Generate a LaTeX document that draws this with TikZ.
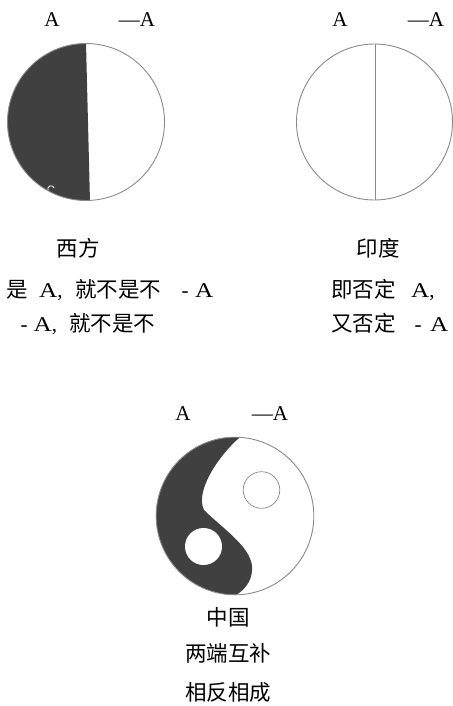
\documentclass[tikz,border=0pt]{standalone}
\usepackage{fontspec}
\setmainfont{Liberation Serif}
\newfontfamily\cjk{Noto Sans CJK SC}
\newcommand\wA{\scalebox{1.2}[1]{A}}
\definecolor{ink}{HTML}{404040}
\definecolor{rim}{HTML}{8A8A8A}
\begin{document}
\begin{tikzpicture}[x=1pt,y=-1pt,
  lbl/.style={font=\fontsize{21}{23}\selectfont, inner sep=0pt},
  lat/.style={font=\fontsize{21}{23}\selectfont, inner sep=0pt, anchor=base west},
  han/.style={font=\cjk\fontsize{21.5}{24}\selectfont, inner sep=0pt},
  hanw/.style={han, anchor=base west},
  rimline/.style={draw=rim, line width=0.9pt}]
\useasboundingbox (0,0) rectangle (452,706);
% ---- left: West ----
\begin{scope}
\clip (86,122) circle (78.5);
\fill[ink] (0,30) -- (86,43) -- (90,202) -- (0,210) -- cycle;
\end{scope}
\draw[rimline] (86,122) circle (78.5);
\draw[white, line width=0.8pt] (48,190) arc (-200:-20:3.2);
\node[lbl] (wa) at (52,20) {A};
\node[lbl] (wna) at (137,20) {—A};
\node[han] (w1) at (78,248) {西方};
\node[hanw] (w2a) at (6,297.5) {是};
\node[lat] (w2b) at (39,297.5) {\wA,};
\node[hanw] (w2c) at (75,297.5) {就不是不};
\node[lat] (w2d) at (181.5,297.5) {-\hspace{6.5pt}\wA};
\node[lat] (w3a) at (20.5,331) {-\hspace{6pt}\wA,};
\node[hanw] (w3b) at (69,331) {就不是不};
% ---- right: India ----
\draw[rimline] (374.5,122) circle (78);
\draw[rimline] (375,44) -- (375,200);
\node[lbl] (ia) at (340,20) {A};
\node[lbl] (ina) at (426,20) {—A};
\node[han] (i1) at (378,248) {印度};
\node[hanw] (i2a) at (331,297.5) {即否定};
\node[lat] (i2b) at (411,297.5) {\wA,};
\node[hanw] (i3a) at (331,331) {又否定};
\node[lat] (i3b) at (414.5,331) {-\hspace{8.5pt}\wA};
% ---- bottom: China ----
\fill[ink] (240,437.2) arc (-86.3:-271.4:78.8)
  .. controls (247,588) and (253,578) .. (252,566)
  .. controls (250,546) and (222,528) .. (204,510)
  .. controls (194,490) and (222,452) .. (240,437.2) -- cycle;
\draw[rimline] (235,516) circle (78.8);
\fill[white] (203.5,546.5) circle (18.5);
\draw[rimline, line width=0.7pt] (261.5,490) circle (18.3);
\node[lbl] (ca) at (183,414) {A};
\node[lbl] (cna) at (270,414) {—A};
\node[han] (c1) at (228,617) {中国};
\node[han] (c2) at (228,653) {两端互补};
\node[han] (c3) at (228,692) {相反相成};
\end{tikzpicture}
\end{document}
